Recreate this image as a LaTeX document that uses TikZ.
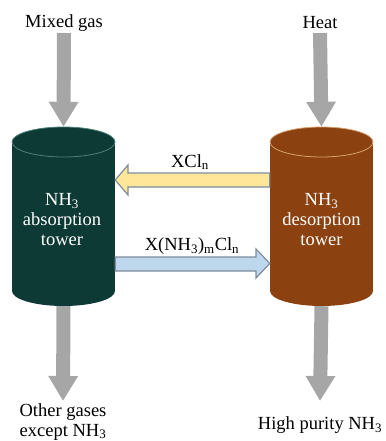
\documentclass[tikz,border=0pt]{standalone}
\usepackage{fontspec}
\setmainfont{Liberation Serif}
\usetikzlibrary{arrows.meta,calc}
\definecolor{tealdark}{HTML}{0E3A35}
\definecolor{tealedge}{HTML}{4F7F78}
\definecolor{brownt}{HTML}{8B4210}
\definecolor{brownedge}{HTML}{D8A070}
\definecolor{arrowgray}{HTML}{A6A6A6}
\definecolor{yelfill}{HTML}{FFE699}
\definecolor{bluefill}{HTML}{BDD7EE}
\definecolor{bordergray}{HTML}{7F8C99}
\begin{document}
\begin{tikzpicture}[x=1pt,y=-1pt,
  lbl/.style={font=\fontsize{18.5}{20}\selectfont, align=center, inner sep=0pt},
  towerbox/.style={minimum width=103pt, minimum height=179pt, inner sep=0pt, draw=none},
  towertext/.style={font=\fontsize{18.5}{20}\selectfont, align=center, text=white, inner sep=0pt},
  grayarrow/.style={draw=arrowgray, line width=14pt, -{Triangle[length=25pt,width=28pt]}},
  yarrow/.style={fill=yelfill, draw=bordergray, line width=1.2pt, line join=miter},
  barrow/.style={fill=bluefill, draw=bordergray, line width=1.2pt, line join=miter}
]
\useasboundingbox (0,0) rectangle (385,441);
% tower nodes (bounding boxes)
\node[towerbox] (abs) at (63.5,216.5) {};
\node[towerbox] (des) at (321.5,216.5) {};
% left cylinder
\fill[tealdark] (12,142) rectangle (115,291);
\fill[tealdark] (63.5,291) ellipse [x radius=51.5pt, y radius=15pt];
\filldraw[fill=tealdark, draw=tealedge, line width=0.8pt] (63.5,142) ellipse [x radius=51.5pt, y radius=15pt];
% right cylinder
\fill[brownt] (270,142) rectangle (373,291);
\fill[brownt] (321.5,291) ellipse [x radius=51.5pt, y radius=15pt];
\filldraw[fill=brownt, draw=brownedge, line width=0.8pt] (321.5,142) ellipse [x radius=51.5pt, y radius=15pt];
% tower texts
\node[towertext] (abslbl) at (62,220) {NH\textsubscript{3}\\absorption\\tower};
\node[towertext] (deslbl) at (321.5,220) {NH\textsubscript{3}\\desorption\\tower};
% input / output labels
\node[lbl] (mixed) at (64,23) {Mixed gas};
\node[lbl] (heat) at (320,23) {Heat};
\node[lbl, anchor=south] (others) at (63,440.5) {Other gases\\except NH\textsubscript{3}};
\node[lbl] (pure) at (320,425) {High purity NH\textsubscript{3}};
% gray arrows
\draw[grayarrow] (mixed.south |- 0,33) -- (abs.north);
\draw[grayarrow] (heat.south |- 0,33) -- (des.north);
\draw[grayarrow] (abs.south) -- (others.north |- 0,401);
\draw[grayarrow] (des.south) -- (pure.north |- 0,401);
% XCln arrow (to the left)
\draw[yarrow] (abs.east |- 0,180) -- (128,165) -- (128,173) -- (des.west |- 0,173)
  -- (des.west |- 0,187) -- (128,187) -- (128,195) -- cycle;
\node[lbl] (xcl) at (190,162) {XCl\textsubscript{n}};
% X(NH3)mCln arrow (to the right)
\draw[barrow] (abs.east |- 0,257) -- (256,257) -- (256,249) -- (des.west |- 0,263.5)
  -- (256,278) -- (256,271) -- (abs.east |- 0,271) -- cycle;
\node[lbl] (xnh) at (192,246) {X(NH\textsubscript{3})\textsubscript{m}Cl\textsubscript{n}};
\end{tikzpicture}
\end{document}
